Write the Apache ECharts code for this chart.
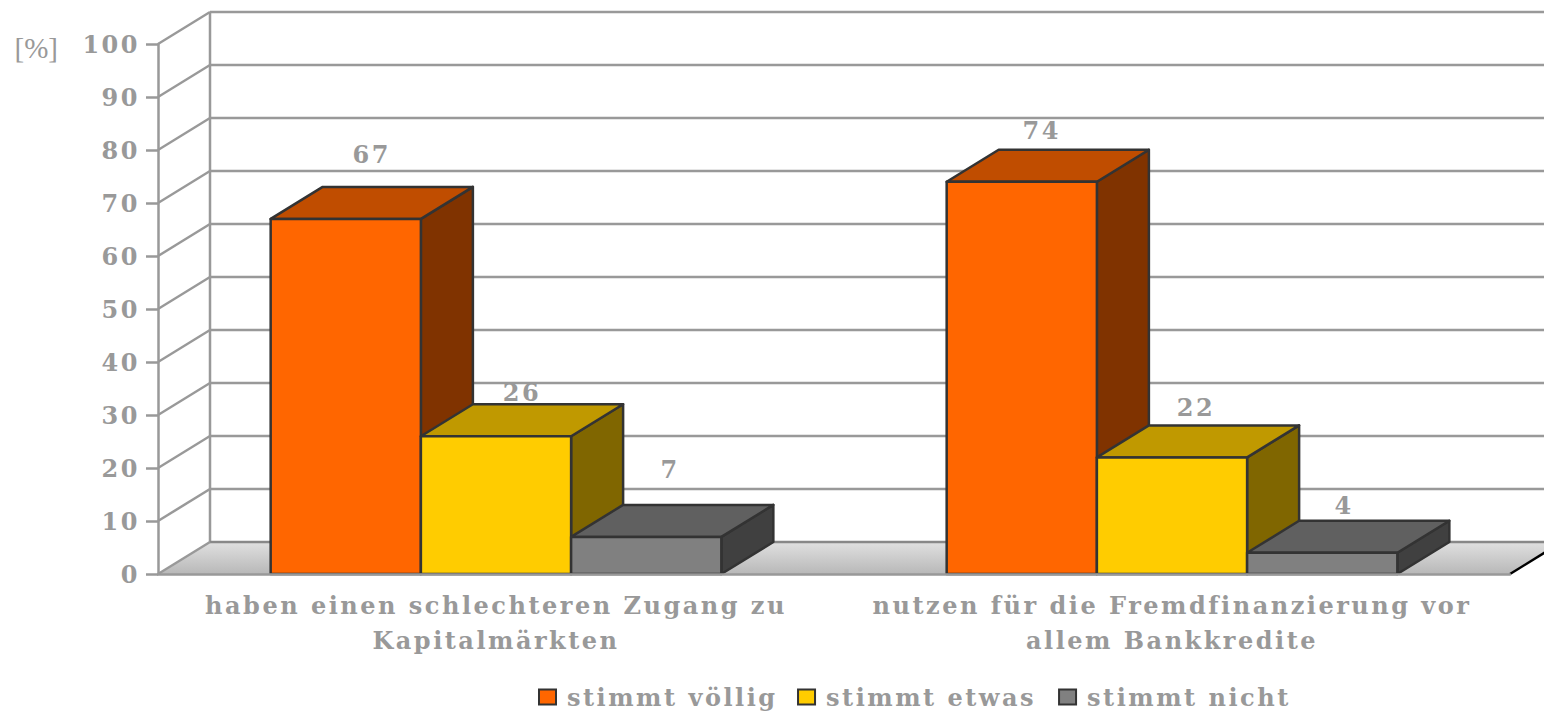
<!DOCTYPE html>
<html>
<head>
<meta charset="utf-8">
<script src="https://cdn.jsdelivr.net/npm/echarts@6/dist/echarts.min.js"></script>
<style>
  html, body { margin: 0; padding: 0; background: #fff; }
  #chart { width: 1544px; height: 712px; }
  /* echarts has no letter spacing option, the svg text picks it up from here */
  #chart text { letter-spacing: 2.5px; }
  #chart text[style*="Liberation"] { letter-spacing: 0; }
</style>
</head>
<body>
<div id="chart"></div>
<script>
const categories = ['haben einen schlechteren Zugang zu\nKapitalmärkten', 'nutzen für die Fremdfinanzierung vor\nallem Bankkredite'];
const seriesNames = ['stimmt völlig', 'stimmt etwas', 'stimmt nicht'];
const stimmtVoellig = [67, 74];
const stimmtEtwas = [26, 22];
const stimmtNicht = [7, 4];
const yTicks = [0, 10, 20, 30, 40, 50, 60, 70, 80, 90, 100];

// 3d look
const DX = 52, DY = 32;
const GREY = '#999999', EDGE = '#333333';
const LINE = 2.5;
const FONT_FAMILY = 'DejaVu Serif', FONT_SIZE = 24;
const faces = [
  { front: '#ff6600', top: '#c04d00', side: '#803300' },
  { front: '#ffcc00', top: '#c09900', side: '#806600' },
  { front: '#808080', top: '#606060', side: '#404040' }
];
// value labels do not sit at a fixed distance over the bars in the original
const labelLift = [[32, 12, 35], [19, 18, 15]];
const labelShift = [[0, 0, -2], [-6, -2, -4]];

function renderWall(params, api) {
  const cs = params.coordSys;
  const p = api.coord([0, api.value(1)]);
  const left = cs.x, right = cs.x + cs.width, y = p[1];
  const lineStyle = { stroke: GREY, lineWidth: LINE, fill: null };
  const children = [];
  if (api.value(1) === 0) {
    children.push({
      type: 'polygon',
      shape: { points: [[left, y], [left + DX, y - DY], [right + DX, y - DY], [right, y]] },
      style: {
        fill: new echarts.graphic.LinearGradient(0, 0, 0, 1, [
          { offset: 0, color: '#e0e0e0' },
          { offset: 1, color: '#b8b8b8' }
        ])
      }
    });
    children.push({ type: 'line', shape: { x1: left + DX, y1: y - DY, x2: left + DX, y2: cs.y - DY }, style: lineStyle });
    children.push({ type: 'line', shape: { x1: left + DX, y1: y - DY, x2: right + DX, y2: y - DY }, style: { stroke: '#888888', lineWidth: LINE } });
    children.push({ type: 'line', shape: { x1: right, y1: y, x2: right + DX, y2: y - DY }, style: { stroke: '#000000', lineWidth: LINE } });
  } else {
    children.push({ type: 'line', shape: { x1: left + DX, y1: y - DY, x2: right + DX, y2: y - DY }, style: lineStyle });
  }
  children.push({ type: 'line', shape: { x1: left, y1: y, x2: left + DX, y2: y - DY }, style: lineStyle });
  return { type: 'group', children: children };
}

function renderBar(seriesIndex) {
  return function (params, api) {
    const cat = api.value(0), val = api.value(1);
    const top = api.coord([cat, val]);
    const base = api.coord([cat, 0]);
    const w = api.size([1, 0])[0] / 4.5;
    const x0 = top[0] + (seriesIndex - 1.5) * w;
    const x1 = x0 + w;
    const f = faces[seriesIndex];
    const edge = { stroke: EDGE, lineWidth: LINE, lineJoin: 'round' };
    return {
      type: 'group',
      children: [
        {
          type: 'polygon',
          shape: { points: [[x1, top[1]], [x1 + DX, top[1] - DY], [x1 + DX, base[1] - DY], [x1, base[1]]] },
          style: Object.assign({ fill: f.side }, edge)
        },
        {
          type: 'polygon',
          shape: { points: [[x0, top[1]], [x0 + DX, top[1] - DY], [x1 + DX, top[1] - DY], [x1, top[1]]] },
          style: Object.assign({ fill: f.top }, edge)
        },
        {
          type: 'rect',
          shape: { x: x0, y: top[1], width: w, height: base[1] - top[1] },
          style: Object.assign({ fill: f.front }, edge)
        },
        {
          type: 'text',
          style: {
            text: String(val),
            x: (x0 + x1) / 2 + DX / 2 + labelShift[cat][seriesIndex],
            y: top[1] - DY - labelLift[cat][seriesIndex],
            textAlign: 'center',
            textVerticalAlign: 'middle',
            fontFamily: FONT_FAMILY,
            fontWeight: 'bold',
            fontSize: FONT_SIZE,
            fill: GREY
          }
        }
      ]
    };
  };
}

function barSeries(name, values, idx) {
  return {
    name: name,
    type: 'custom',
    z: 4,
    renderItem: renderBar(idx),
    encode: { x: 0, y: 1 },
    itemStyle: { color: faces[idx].front, borderColor: EDGE, borderWidth: 2.5 },
    data: values.map(function (v, i) { return [i, v]; })
  };
}

const chart = echarts.init(document.getElementById('chart'), null, { renderer: 'svg' });
chart.setOption({
  animation: false,
  backgroundColor: '#ffffff',
  grid: { left: 158, right: 34, top: 44, bottom: 138 },
  legend: {
    left: 533,
    top: 680,
    icon: 'rect',
    itemWidth: 17,
    itemHeight: 15,
    itemGap: 52,
    data: seriesNames,
    textStyle: { fontFamily: FONT_FAMILY, fontWeight: 'bold', fontSize: FONT_SIZE, color: GREY, padding: [0, 0, 0, 6] }
  },
  xAxis: {
    type: 'category',
    data: categories,
    z: 5,
    axisLine: { lineStyle: { color: GREY, width: LINE } },
    axisTick: { length: 11, lineStyle: { color: GREY, width: LINE } },
    axisLabel: { fontFamily: FONT_FAMILY, fontWeight: 'bold', fontSize: FONT_SIZE, color: GREY, lineHeight: 35, margin: 14, interval: 0 }
  },
  yAxis: {
    type: 'value',
    min: 0,
    max: 100,
    interval: 10,
    z: 5,
    name: '[%]',
    nameLocation: 'end',
    nameGap: -4,
    nameTextStyle: { fontFamily: 'Liberation Serif', fontWeight: 'normal', fontSize: 29, color: GREY, align: 'right', verticalAlign: 'middle', padding: [0, 100, 0, 0] },
    splitLine: { show: false },
    axisLine: { show: true, lineStyle: { color: GREY, width: LINE } },
    axisTick: { show: true, length: 12, lineStyle: { color: GREY, width: LINE } },
    axisLabel: { fontFamily: FONT_FAMILY, fontWeight: 'bold', fontSize: FONT_SIZE, color: GREY, margin: 18 }
  },
  series: [
    {
      type: 'custom',
      z: 1,
      silent: true,
      renderItem: renderWall,
      encode: { x: 0, y: 1 },
      data: yTicks.map(function (t) { return [0, t]; })
    },
    barSeries(seriesNames[0], stimmtVoellig, 0),
    barSeries(seriesNames[1], stimmtEtwas, 1),
    barSeries(seriesNames[2], stimmtNicht, 2)
  ]
});
</script>
</body>
</html>
